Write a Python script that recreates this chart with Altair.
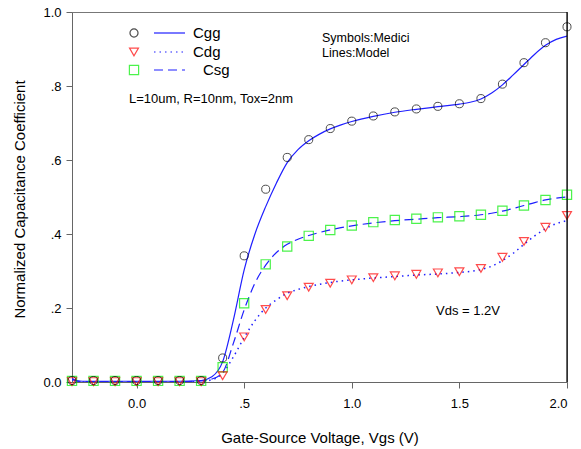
import altair as alt
import pandas as pd

# ---- data ----
vgs_sym = [-0.3, -0.2, -0.1, 0.0, 0.1, 0.2, 0.3, 0.4, 0.5, 0.6, 0.7, 0.8, 0.9,
           1.0, 1.1, 1.2, 1.3, 1.4, 1.5, 1.6, 1.7, 1.8, 1.9, 2.0]
cgg_sym = [0.004, 0.004, 0.004, 0.004, 0.004, 0.004, 0.004,
           0.065, 0.341, 0.521, 0.607, 0.655, 0.685, 0.705, 0.719, 0.730, 0.738,
           0.745, 0.752, 0.766, 0.805, 0.863, 0.917, 0.960]
cdg_sym = [0.001, 0.001, 0.001, 0.001, 0.001, 0.001, 0.001,
           0.017, 0.122, 0.196, 0.233, 0.256, 0.267, 0.276, 0.282, 0.287, 0.291,
           0.295, 0.298, 0.307, 0.337, 0.380, 0.418, 0.450]
csg_sym = [0.003, 0.003, 0.003, 0.003, 0.003, 0.003, 0.003,
           0.040, 0.213, 0.318, 0.366, 0.395, 0.411, 0.423, 0.432, 0.438, 0.441,
           0.445, 0.448, 0.452, 0.463, 0.477, 0.492, 0.506]

vgs_model = [-0.3, -0.28, -0.25, -0.2, 0.0, 0.2, 0.3, 0.35, 0.4, 0.45, 0.5, 0.55,
             0.6, 0.65, 0.7, 0.75, 0.8, 0.85, 0.9, 0.95, 1.0, 1.1, 1.2, 1.3, 1.4,
             1.5, 1.55, 1.6, 1.65, 1.7, 1.75, 1.8, 1.85, 1.9, 1.95, 2.0]
cgg_model = [0.010, 0.004, 0.002, 0.002, 0.002, 0.002, 0.004, 0.014, 0.055, 0.168,
             0.303, 0.400, 0.474, 0.538, 0.593, 0.628, 0.652, 0.670, 0.684, 0.695,
             0.704, 0.718, 0.729, 0.737, 0.744, 0.751, 0.756, 0.765, 0.781, 0.803,
             0.830, 0.858, 0.886, 0.910, 0.926, 0.935]
cdg_model = [0.006, 0.002, 0.0, 0.0, 0.0, 0.0, 0.002, 0.006, 0.024, 0.068,
             0.120, 0.166, 0.200, 0.222, 0.240, 0.250, 0.258, 0.264, 0.269, 0.273,
             0.276, 0.281, 0.285, 0.289, 0.292, 0.296, 0.299, 0.304, 0.313, 0.328,
             0.348, 0.372, 0.395, 0.414, 0.428, 0.436]
csg_model = [0.008, 0.003, 0.001, 0.001, 0.001, 0.001, 0.003, 0.008, 0.026, 0.105,
             0.195, 0.267, 0.316, 0.350, 0.372, 0.386, 0.396, 0.404, 0.411, 0.417,
             0.422, 0.430, 0.436, 0.440, 0.444, 0.447, 0.449, 0.452, 0.456, 0.462,
             0.469, 0.477, 0.485, 0.492, 0.497, 0.500]

x_ticks = [0.0, 0.5, 1.0, 1.5, 2.0]
y_ticks = [0.0, 0.2, 0.4, 0.6, 0.8, 1.0]

FONT = "Liberation Sans"
W, H = 495, 370

lbl_expr = ("datum.value > 0 && datum.value < 1 ? replace(format(datum.value, '.1f'), '0.', '.')"
            " : format(datum.value, '.1f')")

xs = alt.Scale(domain=[-0.3, 2.0], nice=False, zero=False)
ys = alt.Scale(domain=[0, 1], nice=False)

x_enc = alt.X("vgs:Q", scale=xs, axis=alt.Axis(
    values=x_ticks, labelExpr=lbl_expr, title="Gate-Source Voltage, Vgs (V)",
    grid=False, tickSize=6, labelPadding=9, labelFontSize=13, titleFontSize=15,
    titleFontWeight="normal", titleY=55, titleBaseline="middle",
    domainColor="#666666", tickColor="#666666", labelColor="#000000",
    labelFont=FONT, titleFont=FONT))
y_enc = alt.Y("val:Q", scale=ys, axis=alt.Axis(
    values=y_ticks, labelExpr=lbl_expr, title="Normalized Capacitance Coefficient",
    grid=False, tickSize=6, labelPadding=5, labelFontSize=13, titleFontSize=15,
    titleFontWeight="normal", titleX=-53, titleY=187, titleAngle=-90,
    titleAlign="center", titleBaseline="middle",
    domainColor="#666666", tickColor="#666666", labelColor="#000000",
    labelFont=FONT, titleFont=FONT))

def model_df(vals, name):
    return pd.DataFrame({"vgs": vgs_model, "val": vals, "series": name})

def sym_df(vals, name):
    return pd.DataFrame({"vgs": vgs_sym, "val": vals, "series": name})

BLUE = "#1f1fff"

line_cgg = alt.Chart(model_df(cgg_model, "Cgg")).mark_line(
    color=BLUE, strokeWidth=1.2, clip=True, interpolate="monotone").encode(x=x_enc, y=y_enc)
line_cdg = alt.Chart(model_df(cdg_model, "Cdg")).mark_line(
    color=BLUE, strokeWidth=1.5, strokeDash=[1.5, 4], clip=True, interpolate="monotone").encode(x=x_enc, y=y_enc)
line_csg = alt.Chart(model_df(csg_model, "Csg")).mark_line(
    color=BLUE, strokeWidth=1.2, strokeDash=[9, 5], clip=True, interpolate="monotone").encode(x=x_enc, y=y_enc)

pts_csg = alt.Chart(sym_df(csg_sym, "Csg")).mark_point(
    shape="square", filled=False, color="#00ee00", size=85, strokeWidth=1.2).encode(x=x_enc, y=y_enc)
pts_cdg = alt.Chart(sym_df(cdg_sym, "Cdg")).mark_point(
    shape="triangle-down", filled=False, color="#ff0000", size=80, strokeWidth=1.2).encode(x=x_enc, y=y_enc)
pts_cgg = alt.Chart(sym_df(cgg_sym, "Cgg")).mark_point(
    shape="circle", filled=False, color="#000000", size=65, strokeWidth=1).encode(x=x_enc, y=y_enc)

one = pd.DataFrame({"a": [0]})

def txt(s, px, py, size=13, align="left"):
    return alt.Chart(one).mark_text(text=s, font=FONT, fontSize=size, align=align,
                                    baseline="middle", color="#000000").encode(
        x=alt.value(px), y=alt.value(py))

def sym(shape, color, px, py, size):
    return alt.Chart(one).mark_point(shape=shape, filled=False, color=color, size=size,
                                     strokeWidth=1.2).encode(x=alt.value(px), y=alt.value(py))

def seg(px1, px2, py, dash):
    kw = dict(color=BLUE, strokeWidth=1.2)
    if dash:
        kw["strokeDash"] = dash
    return alt.Chart(one).mark_rule(**kw).encode(
        x=alt.value(px1), x2=alt.value(px2), y=alt.value(py))

legend = [
    sym("circle", "#000000", 62, 21, 65), seg(82, 113, 21, None), txt("Cgg", 121, 21, 15),
    sym("triangle-down", "#ff0000", 62, 40, 80), seg(82, 113, 40, [1.5, 4]), txt("Cdg", 121, 40, 15),
    sym("square", "#00ee00", 62, 58, 85), seg(82, 113, 58, [9, 5]), txt("Csg", 131, 58, 15),
    txt("L=10um, R=10nm, Tox=2nm", 57, 87, 13),
    txt("Symbols:Medici", 250, 26, 12.5),
    txt("Lines:Model", 250, 41, 12.5),
    txt("Vds = 1.2V", 364, 299, 13),
]

right_border = alt.Chart(one).mark_rule(color="#000000", strokeWidth=1.2).encode(
    x=alt.value(W), y=alt.value(0), y2=alt.value(H))

chart = alt.layer(
    line_cgg, line_cdg, line_csg, pts_csg, pts_cdg, pts_cgg, right_border, *legend
).properties(
    width=W, height=H,
    autosize=alt.AutoSizeParams(type="none"),
    padding={"left": 72, "top": 12, "right": 14, "bottom": 67},
    background="#ffffff",
).configure_view(stroke="#777777", strokeWidth=1)

chart.save("out.html", embed_options={"renderer": "svg", "actions": False})
